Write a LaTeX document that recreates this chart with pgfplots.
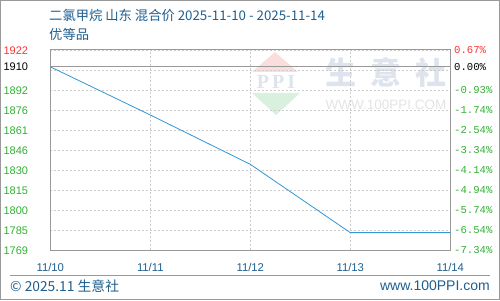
\documentclass[border=0pt]{standalone}
\usepackage{pgfplots}
\pgfplotsset{compat=1.18}
\usepackage{fontspec}
\setmainfont{Liberation Sans}
\newfontfamily\cjk{Noto Sans CJK SC}
\newfontfamily\monof{Liberation Mono}
\newfontfamily\serifb{Liberation Serif}
\definecolor{tblue}{RGB}{30,95,145}
\definecolor{lblue}{RGB}{52,150,215}
\definecolor{lred}{RGB}{255,51,51}
\definecolor{lgreen}{RGB}{51,176,51}
\definecolor{framec}{RGB}{153,153,153}
\definecolor{gridc}{RGB}{204,204,204}
\definecolor{wmblue}{RGB}{222,228,238}
\definecolor{wmgray}{RGB}{228,228,228}
\definecolor{wmred}{RGB}{250,222,222}
\definecolor{wmgreen}{RGB}{218,240,222}
\begin{document}
\begin{tikzpicture}
\begin{scope}[shift={(-50.3pt,-49.7pt)}, x=1pt, y=1pt]
\useasboundingbox (0,0) rectangle (500,300);
\fill[white] (0,0) rectangle (500,300);
\draw[framec, line width=1pt] (0.5,0.5) rectangle (499.5,299.5);
% watermark
\fill[wmred] (275,248) -- (252,228) -- (298,228) -- cycle;
\fill[wmgreen] (252,207) -- (300,207) -- (276,185) -- cycle;
\node[text=wmblue, font=\serifb\bfseries\fontsize{20}{20}\selectfont] at (276,218) {P\hspace{3pt}P\hspace{3pt}I};
\node[text=wmblue, font=\cjk\fontsize{31}{31}\selectfont\bfseries] at (386,227.5) {生\hspace{14pt}意\hspace{14pt}社};
\node[text=wmgray, font=\fontsize{13.5}{14}\selectfont] at (386,195) {WWW.100PPI.COM};
% title
\node[anchor=west, inner sep=0pt, text=tblue, font=\cjk\fontsize{13.3}{14}\selectfont] at (49,285) {二氯甲烷 山东 混合价 2025-11-10 - 2025-11-14};
\node[anchor=west, inner sep=0pt, text=tblue, font=\cjk\fontsize{13.3}{14}\selectfont] at (49,266) {优等品};
% footer
\draw[framec, line width=1pt] (10,24.3) -- (490,24.3);
\node[anchor=west, inner sep=0pt, text=tblue, font=\cjk\fontsize{13.8}{14}\selectfont] at (10,14.3) {© 2025.11 生意社};
\node[anchor=east, inner sep=0pt, text=tblue, font=\fontsize{14}{14}\selectfont] at (490,14.3) {www.100PPI.com};
\end{scope}
\begin{axis}[
  at={(0pt,0pt)}, anchor=south west, scale only axis,
  width=400pt, height=200.6pt,
  xmin=0, xmax=4, ymin=1769.81, ymax=1923.07,
  axis line style={framec, line width=1pt},
  major tick length=0pt,
  xtick={0,1,2,3,4},
  xticklabels={11/10,11/11,11/12,11/13,11/14},
  xticklabel style={anchor=center, yshift=-16.7pt, inner sep=0pt, text=tblue, font=\fontsize{11.3}{12}\selectfont},
  ytick={1769.81,1785.09,1800.37,1815.65,1830.93,1846.21,1861.49,1876.77,1892.05,1907.33,1922.61},
  yticklabels={1769,1785,1800,1815,1830,1846,1861,1876,1892,{},\textcolor{lred}{1922}},
  yticklabel style={anchor=east, xshift=-22pt, inner sep=0pt, text=lgreen, font=\fontsize{11}{12}\selectfont},
  extra y ticks={1910},
  extra y tick labels={\textcolor{black}{1910}},
  extra y tick style={grid=major, major grid style={solid, framec, line width=1pt}},
  grid=major,
  major grid style={gridc, dash pattern=on 2pt off 2pt, line width=0.8pt},
  clip=false,
]
\addplot[lblue, line width=0.8pt] coordinates {(0,1910) (1,1873.2) (2,1835.5) (3,1783.3) (4,1783.3)};
\end{axis}
\begin{axis}[
  at={(0pt,0pt)}, anchor=south west, scale only axis,
  width=400pt, height=200.6pt,
  xmin=0, xmax=4, ymin=1769.81, ymax=1923.07,
  axis x line=none, axis y line*=right,
  axis line style={draw=none},
  major tick length=0pt,
  ytick={1769.81,1785.09,1800.37,1815.65,1830.93,1846.21,1861.49,1876.77,1892.05,1907.33,1922.61},
  yticklabels={-7.34\%,-6.54\%,-5.74\%,-4.94\%,-4.14\%,-3.34\%,-2.54\%,-1.74\%,-0.93\%,{},\textcolor{lred}{0.67\%}},
  yticklabel style={anchor=west, xshift=3.7pt, inner sep=0pt, text=lgreen, font=\monof\fontsize{10.6}{12}\selectfont},
  extra y ticks={1910},
  extra y tick labels={\textcolor{black}{0.00\%}},
]
\addplot[draw=none] coordinates {(0,1910) (4,1910)};
\end{axis}
\end{tikzpicture}
\end{document}
